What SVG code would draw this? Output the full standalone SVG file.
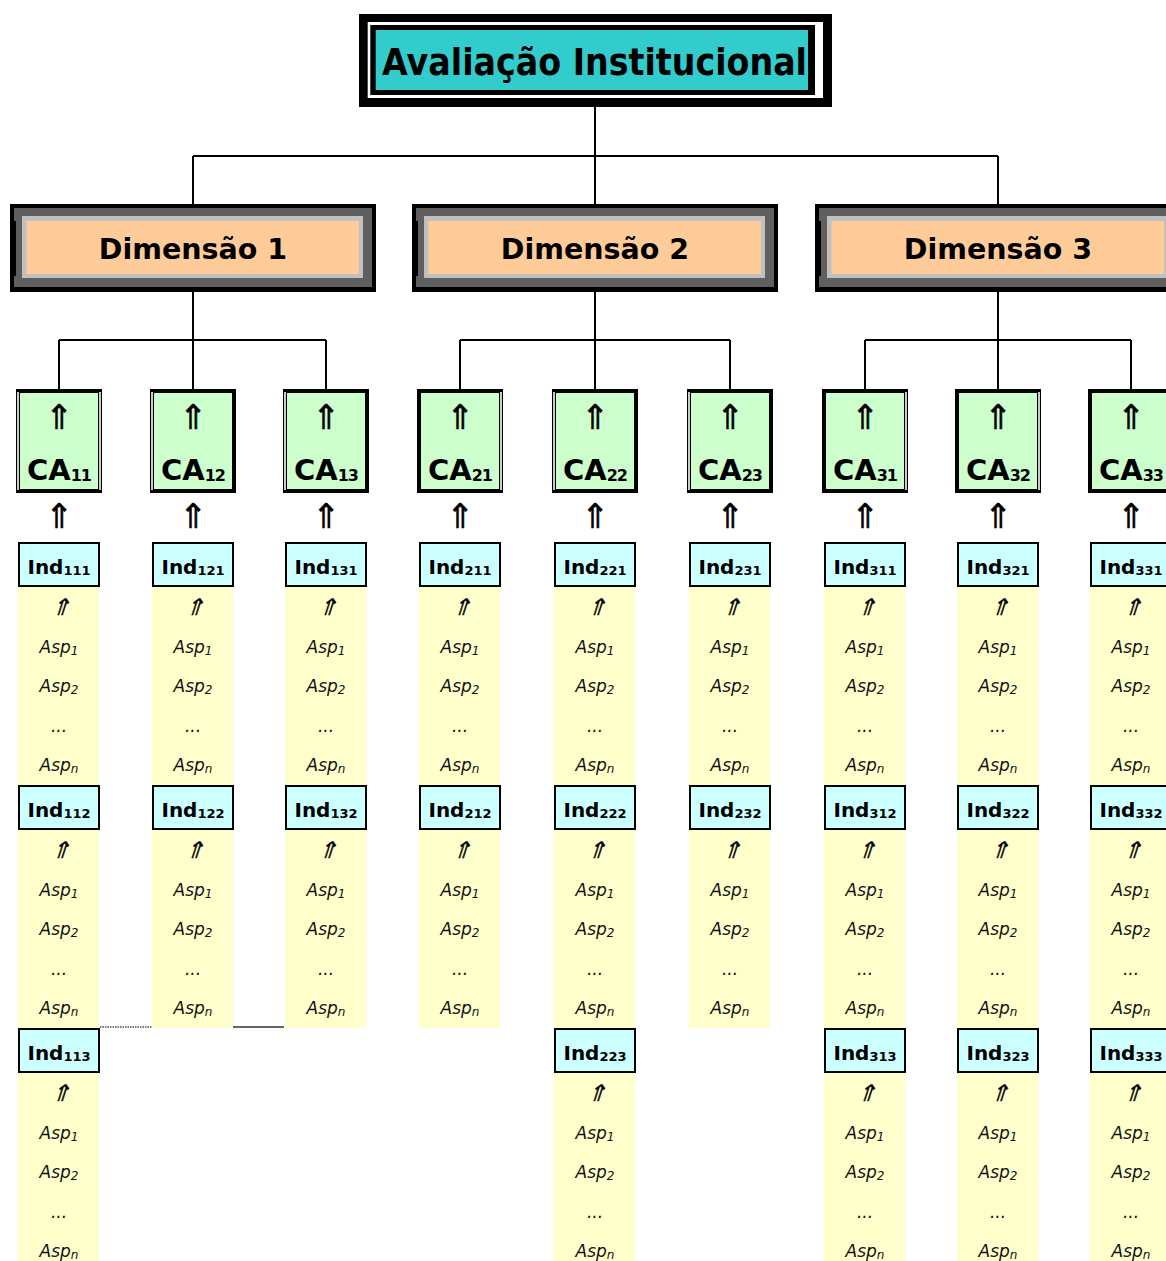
<svg xmlns="http://www.w3.org/2000/svg" width="1166" height="1261" viewBox="0 0 1166 1261">
<style>
.con{stroke:#000;stroke-width:2;fill:none}
.t{font-family:"DejaVu Sans",Verdana,sans-serif;font-weight:bold;text-anchor:middle;fill:#000}
.it{font-family:"DejaVu Sans",Verdana,sans-serif;font-style:italic;text-anchor:middle;fill:#111;font-size:17px}
.s12{font-size:12px}
.ind{fill:#ccffff;stroke:#000;stroke-width:2}
.asp{fill:#ffffcc}
.ca{fill:#ccffcc;stroke:#000;stroke-width:4}
.dbl{stroke:#fff;stroke-width:1.6}
.arr{font-family:"DejaVu Sans",sans-serif;font-size:34px;text-anchor:middle;fill:#000;stroke:#000;stroke-width:0.5}
.arri{font-family:"DejaVu Sans",sans-serif;font-size:23px;text-anchor:middle;fill:#000;stroke:#000;stroke-width:0.3}
.indt{font-size:20px}
.indt tspan{font-size:13px}
.cat{font-size:29px}
.cat tspan{font-size:16px;letter-spacing:-1px}
</style>
<rect width="1166" height="1261" fill="#fff"/>
<g id="connectors">
<path class="con" d="M595,107V156M193,156H998M193,156V204M595,156V204M998,156V204"/>
<path class="con" d="M193,292V340M59,340H326M59,340V389M193,340V389M326,340V389"/>
<path class="con" d="M595,292V340M460,340H730M460,340V389M595,340V389M730,340V389"/>
<path class="con" d="M998,292V340M865,340H1131M865,340V389M998,340V389M1131,340V389"/>
</g>
<g id="title">
<rect x="359" y="14" width="473" height="93" fill="#000"/>
<rect x="367.7" y="22" width="455.3" height="76" fill="#fff"/>
<rect x="370.3" y="25" width="444.7" height="70" fill="#000"/>
<rect x="375.7" y="30" width="432.3" height="60" fill="#33cccc"/>
<text class="t" x="594.5" y="75" font-size="38" textLength="425" lengthAdjust="spacingAndGlyphs">Avaliação Institucional</text>
</g>
<g id="dim1" transform="translate(10,0)">
<rect x="0" y="204" width="366" height="88" fill="#000"/>
<rect x="4" y="208" width="358" height="79" fill="#5f5f5f"/>
<rect x="4" y="221" width="2" height="55" fill="#000"/>
<rect x="12" y="216" width="341" height="62" fill="#c0c0c0"/>
<rect x="16.5" y="221" width="332.5" height="53" fill="#ffcc99"/>
<text class="t" x="183" y="259" font-size="28.5">Dimensão 1</text>
</g>
<g id="dim2" transform="translate(412,0)">
<rect x="0" y="204" width="366" height="88" fill="#000"/>
<rect x="4" y="208" width="358" height="79" fill="#5f5f5f"/>
<rect x="4" y="221" width="2" height="55" fill="#000"/>
<rect x="12" y="216" width="341" height="62" fill="#c0c0c0"/>
<rect x="16.5" y="221" width="332.5" height="53" fill="#ffcc99"/>
<text class="t" x="183" y="259" font-size="28.5">Dimensão 2</text>
</g>
<g id="dim3" transform="translate(815,0)">
<rect x="0" y="204" width="366" height="88" fill="#000"/>
<rect x="4" y="208" width="358" height="79" fill="#5f5f5f"/>
<rect x="4" y="221" width="2" height="55" fill="#000"/>
<rect x="12" y="216" width="341" height="62" fill="#c0c0c0"/>
<rect x="16.5" y="221" width="332.5" height="53" fill="#ffcc99"/>
<text class="t" x="183" y="259" font-size="28.5">Dimensão 3</text>
</g>

<g id="ca11" transform="translate(59,0)">
<rect class="ca" x="-41" y="391" width="82" height="100"/>
<line class="dbl" x1="-41" y1="392" x2="-41" y2="490"/><line class="dbl" x1="41" y1="392" x2="41" y2="490"/>
<text class="arr" x="0" y="429">⇑</text>
<text class="t cat" x="0" y="480">CA<tspan dy="1">11</tspan></text>
<text class="arr" x="0" y="528">⇑</text>
</g>
<g id="ca12" transform="translate(193,0)">
<rect class="ca" x="-41" y="391" width="82" height="100"/>
<line class="dbl" x1="-41" y1="392" x2="-41" y2="490"/>
<text class="arr" x="0" y="429">⇑</text>
<text class="t cat" x="0" y="480">CA<tspan dy="1">12</tspan></text>
<text class="arr" x="0" y="528">⇑</text>
</g>
<g id="ca13" transform="translate(326,0)">
<rect class="ca" x="-41" y="391" width="82" height="100"/>
<line class="dbl" x1="-41" y1="392" x2="-41" y2="490"/>
<text class="arr" x="0" y="429">⇑</text>
<text class="t cat" x="0" y="480">CA<tspan dy="1">13</tspan></text>
<text class="arr" x="0" y="528">⇑</text>
</g>
<g id="ca21" transform="translate(460,0)">
<rect class="ca" x="-41" y="391" width="82" height="100"/>
<line class="dbl" x1="41" y1="392" x2="41" y2="490"/>
<text class="arr" x="0" y="429">⇑</text>
<text class="t cat" x="0" y="480">CA<tspan dy="1">21</tspan></text>
<text class="arr" x="0" y="528">⇑</text>
</g>
<g id="ca22" transform="translate(595,0)">
<rect class="ca" x="-41" y="391" width="82" height="100"/>
<line class="dbl" x1="-41" y1="392" x2="-41" y2="490"/>
<text class="arr" x="0" y="429">⇑</text>
<text class="t cat" x="0" y="480">CA<tspan dy="1">22</tspan></text>
<text class="arr" x="0" y="528">⇑</text>
</g>
<g id="ca23" transform="translate(730,0)">
<rect class="ca" x="-41" y="391" width="82" height="100"/>
<line class="dbl" x1="-41" y1="392" x2="-41" y2="490"/>
<text class="arr" x="0" y="429">⇑</text>
<text class="t cat" x="0" y="480">CA<tspan dy="1">23</tspan></text>
<text class="arr" x="0" y="528">⇑</text>
</g>
<g id="ca31" transform="translate(865,0)">
<rect class="ca" x="-41" y="391" width="82" height="100"/>
<line class="dbl" x1="41" y1="392" x2="41" y2="490"/>
<text class="arr" x="0" y="429">⇑</text>
<text class="t cat" x="0" y="480">CA<tspan dy="1">31</tspan></text>
<text class="arr" x="0" y="528">⇑</text>
</g>
<g id="ca32" transform="translate(998,0)">
<rect class="ca" x="-41" y="391" width="82" height="100"/>
<line class="dbl" x1="41" y1="392" x2="41" y2="490"/>
<text class="arr" x="0" y="429">⇑</text>
<text class="t cat" x="0" y="480">CA<tspan dy="1">32</tspan></text>
<text class="arr" x="0" y="528">⇑</text>
</g>
<g id="ca33" transform="translate(1131,0)">
<rect class="ca" x="-41" y="391" width="82" height="100"/>
<text class="arr" x="0" y="429">⇑</text>
<text class="t cat" x="0" y="480">CA<tspan dy="1">33</tspan></text>
<text class="arr" x="0" y="528">⇑</text>
</g>

<g id="ind111" transform="translate(59,542)"><rect class="asp" x="-41" y="45" width="81" height="198"/><rect class="ind" x="-40" y="1" width="80" height="43"/><text class="t indt" x="0" y="32">Ind<tspan dy="1">111</tspan></text><text class="arri" transform="translate(1,73) skewX(-18)">⇑</text><text class="it" x="0" y="111">Asp<tspan class="s12" dy="2">1</tspan></text><text class="it" x="0" y="150">Asp<tspan class="s12" dy="2">2</tspan></text><text class="it" x="0" y="190">...</text><text class="it" x="0" y="229">Asp<tspan class="s12" dy="2">n</tspan></text></g>
<g id="ind112" transform="translate(59,785)"><rect class="asp" x="-41" y="45" width="81" height="198"/><rect class="ind" x="-40" y="1" width="80" height="43"/><text class="t indt" x="0" y="32">Ind<tspan dy="1">112</tspan></text><text class="arri" transform="translate(1,73) skewX(-18)">⇑</text><text class="it" x="0" y="111">Asp<tspan class="s12" dy="2">1</tspan></text><text class="it" x="0" y="150">Asp<tspan class="s12" dy="2">2</tspan></text><text class="it" x="0" y="190">...</text><text class="it" x="0" y="229">Asp<tspan class="s12" dy="2">n</tspan></text></g>
<g id="ind113" transform="translate(59,1028)"><rect class="asp" x="-41" y="45" width="81" height="198"/><rect class="ind" x="-40" y="1" width="80" height="43"/><text class="t indt" x="0" y="32">Ind<tspan dy="1">113</tspan></text><text class="arri" transform="translate(1,73) skewX(-18)">⇑</text><text class="it" x="0" y="111">Asp<tspan class="s12" dy="2">1</tspan></text><text class="it" x="0" y="150">Asp<tspan class="s12" dy="2">2</tspan></text><text class="it" x="0" y="190">...</text><text class="it" x="0" y="229">Asp<tspan class="s12" dy="2">n</tspan></text></g>

<g id="ind121" transform="translate(193,542)"><rect class="asp" x="-41" y="45" width="81" height="198"/><rect class="ind" x="-40" y="1" width="80" height="43"/><text class="t indt" x="0" y="32">Ind<tspan dy="1">121</tspan></text><text class="arri" transform="translate(1,73) skewX(-18)">⇑</text><text class="it" x="0" y="111">Asp<tspan class="s12" dy="2">1</tspan></text><text class="it" x="0" y="150">Asp<tspan class="s12" dy="2">2</tspan></text><text class="it" x="0" y="190">...</text><text class="it" x="0" y="229">Asp<tspan class="s12" dy="2">n</tspan></text></g>
<g id="ind122" transform="translate(193,785)"><rect class="asp" x="-41" y="45" width="81" height="198"/><rect class="ind" x="-40" y="1" width="80" height="43"/><text class="t indt" x="0" y="32">Ind<tspan dy="1">122</tspan></text><text class="arri" transform="translate(1,73) skewX(-18)">⇑</text><text class="it" x="0" y="111">Asp<tspan class="s12" dy="2">1</tspan></text><text class="it" x="0" y="150">Asp<tspan class="s12" dy="2">2</tspan></text><text class="it" x="0" y="190">...</text><text class="it" x="0" y="229">Asp<tspan class="s12" dy="2">n</tspan></text></g>

<g id="ind131" transform="translate(326,542)"><rect class="asp" x="-41" y="45" width="81" height="198"/><rect class="ind" x="-40" y="1" width="80" height="43"/><text class="t indt" x="0" y="32">Ind<tspan dy="1">131</tspan></text><text class="arri" transform="translate(1,73) skewX(-18)">⇑</text><text class="it" x="0" y="111">Asp<tspan class="s12" dy="2">1</tspan></text><text class="it" x="0" y="150">Asp<tspan class="s12" dy="2">2</tspan></text><text class="it" x="0" y="190">...</text><text class="it" x="0" y="229">Asp<tspan class="s12" dy="2">n</tspan></text></g>
<g id="ind132" transform="translate(326,785)"><rect class="asp" x="-41" y="45" width="81" height="198"/><rect class="ind" x="-40" y="1" width="80" height="43"/><text class="t indt" x="0" y="32">Ind<tspan dy="1">132</tspan></text><text class="arri" transform="translate(1,73) skewX(-18)">⇑</text><text class="it" x="0" y="111">Asp<tspan class="s12" dy="2">1</tspan></text><text class="it" x="0" y="150">Asp<tspan class="s12" dy="2">2</tspan></text><text class="it" x="0" y="190">...</text><text class="it" x="0" y="229">Asp<tspan class="s12" dy="2">n</tspan></text></g>

<g id="ind211" transform="translate(460,542)"><rect class="asp" x="-41" y="45" width="81" height="198"/><rect class="ind" x="-40" y="1" width="80" height="43"/><text class="t indt" x="0" y="32">Ind<tspan dy="1">211</tspan></text><text class="arri" transform="translate(1,73) skewX(-18)">⇑</text><text class="it" x="0" y="111">Asp<tspan class="s12" dy="2">1</tspan></text><text class="it" x="0" y="150">Asp<tspan class="s12" dy="2">2</tspan></text><text class="it" x="0" y="190">...</text><text class="it" x="0" y="229">Asp<tspan class="s12" dy="2">n</tspan></text></g>
<g id="ind212" transform="translate(460,785)"><rect class="asp" x="-41" y="45" width="81" height="198"/><rect class="ind" x="-40" y="1" width="80" height="43"/><text class="t indt" x="0" y="32">Ind<tspan dy="1">212</tspan></text><text class="arri" transform="translate(1,73) skewX(-18)">⇑</text><text class="it" x="0" y="111">Asp<tspan class="s12" dy="2">1</tspan></text><text class="it" x="0" y="150">Asp<tspan class="s12" dy="2">2</tspan></text><text class="it" x="0" y="190">...</text><text class="it" x="0" y="229">Asp<tspan class="s12" dy="2">n</tspan></text></g>

<g id="ind221" transform="translate(595,542)"><rect class="asp" x="-41" y="45" width="81" height="198"/><rect class="ind" x="-40" y="1" width="80" height="43"/><text class="t indt" x="0" y="32">Ind<tspan dy="1">221</tspan></text><text class="arri" transform="translate(1,73) skewX(-18)">⇑</text><text class="it" x="0" y="111">Asp<tspan class="s12" dy="2">1</tspan></text><text class="it" x="0" y="150">Asp<tspan class="s12" dy="2">2</tspan></text><text class="it" x="0" y="190">...</text><text class="it" x="0" y="229">Asp<tspan class="s12" dy="2">n</tspan></text></g>
<g id="ind222" transform="translate(595,785)"><rect class="asp" x="-41" y="45" width="81" height="198"/><rect class="ind" x="-40" y="1" width="80" height="43"/><text class="t indt" x="0" y="32">Ind<tspan dy="1">222</tspan></text><text class="arri" transform="translate(1,73) skewX(-18)">⇑</text><text class="it" x="0" y="111">Asp<tspan class="s12" dy="2">1</tspan></text><text class="it" x="0" y="150">Asp<tspan class="s12" dy="2">2</tspan></text><text class="it" x="0" y="190">...</text><text class="it" x="0" y="229">Asp<tspan class="s12" dy="2">n</tspan></text></g>
<g id="ind223" transform="translate(595,1028)"><rect class="asp" x="-41" y="45" width="81" height="198"/><rect class="ind" x="-40" y="1" width="80" height="43"/><text class="t indt" x="0" y="32">Ind<tspan dy="1">223</tspan></text><text class="arri" transform="translate(1,73) skewX(-18)">⇑</text><text class="it" x="0" y="111">Asp<tspan class="s12" dy="2">1</tspan></text><text class="it" x="0" y="150">Asp<tspan class="s12" dy="2">2</tspan></text><text class="it" x="0" y="190">...</text><text class="it" x="0" y="229">Asp<tspan class="s12" dy="2">n</tspan></text></g>

<g id="ind231" transform="translate(730,542)"><rect class="asp" x="-41" y="45" width="81" height="198"/><rect class="ind" x="-40" y="1" width="80" height="43"/><text class="t indt" x="0" y="32">Ind<tspan dy="1">231</tspan></text><text class="arri" transform="translate(1,73) skewX(-18)">⇑</text><text class="it" x="0" y="111">Asp<tspan class="s12" dy="2">1</tspan></text><text class="it" x="0" y="150">Asp<tspan class="s12" dy="2">2</tspan></text><text class="it" x="0" y="190">...</text><text class="it" x="0" y="229">Asp<tspan class="s12" dy="2">n</tspan></text></g>
<g id="ind232" transform="translate(730,785)"><rect class="asp" x="-41" y="45" width="81" height="198"/><rect class="ind" x="-40" y="1" width="80" height="43"/><text class="t indt" x="0" y="32">Ind<tspan dy="1">232</tspan></text><text class="arri" transform="translate(1,73) skewX(-18)">⇑</text><text class="it" x="0" y="111">Asp<tspan class="s12" dy="2">1</tspan></text><text class="it" x="0" y="150">Asp<tspan class="s12" dy="2">2</tspan></text><text class="it" x="0" y="190">...</text><text class="it" x="0" y="229">Asp<tspan class="s12" dy="2">n</tspan></text></g>

<g id="ind311" transform="translate(865,542)"><rect class="asp" x="-41" y="45" width="81" height="198"/><rect class="ind" x="-40" y="1" width="80" height="43"/><text class="t indt" x="0" y="32">Ind<tspan dy="1">311</tspan></text><text class="arri" transform="translate(1,73) skewX(-18)">⇑</text><text class="it" x="0" y="111">Asp<tspan class="s12" dy="2">1</tspan></text><text class="it" x="0" y="150">Asp<tspan class="s12" dy="2">2</tspan></text><text class="it" x="0" y="190">...</text><text class="it" x="0" y="229">Asp<tspan class="s12" dy="2">n</tspan></text></g>
<g id="ind312" transform="translate(865,785)"><rect class="asp" x="-41" y="45" width="81" height="198"/><rect class="ind" x="-40" y="1" width="80" height="43"/><text class="t indt" x="0" y="32">Ind<tspan dy="1">312</tspan></text><text class="arri" transform="translate(1,73) skewX(-18)">⇑</text><text class="it" x="0" y="111">Asp<tspan class="s12" dy="2">1</tspan></text><text class="it" x="0" y="150">Asp<tspan class="s12" dy="2">2</tspan></text><text class="it" x="0" y="190">...</text><text class="it" x="0" y="229">Asp<tspan class="s12" dy="2">n</tspan></text></g>
<g id="ind313" transform="translate(865,1028)"><rect class="asp" x="-41" y="45" width="81" height="198"/><rect class="ind" x="-40" y="1" width="80" height="43"/><text class="t indt" x="0" y="32">Ind<tspan dy="1">313</tspan></text><text class="arri" transform="translate(1,73) skewX(-18)">⇑</text><text class="it" x="0" y="111">Asp<tspan class="s12" dy="2">1</tspan></text><text class="it" x="0" y="150">Asp<tspan class="s12" dy="2">2</tspan></text><text class="it" x="0" y="190">...</text><text class="it" x="0" y="229">Asp<tspan class="s12" dy="2">n</tspan></text></g>

<g id="ind321" transform="translate(998,542)"><rect class="asp" x="-41" y="45" width="81" height="198"/><rect class="ind" x="-40" y="1" width="80" height="43"/><text class="t indt" x="0" y="32">Ind<tspan dy="1">321</tspan></text><text class="arri" transform="translate(1,73) skewX(-18)">⇑</text><text class="it" x="0" y="111">Asp<tspan class="s12" dy="2">1</tspan></text><text class="it" x="0" y="150">Asp<tspan class="s12" dy="2">2</tspan></text><text class="it" x="0" y="190">...</text><text class="it" x="0" y="229">Asp<tspan class="s12" dy="2">n</tspan></text></g>
<g id="ind322" transform="translate(998,785)"><rect class="asp" x="-41" y="45" width="81" height="198"/><rect class="ind" x="-40" y="1" width="80" height="43"/><text class="t indt" x="0" y="32">Ind<tspan dy="1">322</tspan></text><text class="arri" transform="translate(1,73) skewX(-18)">⇑</text><text class="it" x="0" y="111">Asp<tspan class="s12" dy="2">1</tspan></text><text class="it" x="0" y="150">Asp<tspan class="s12" dy="2">2</tspan></text><text class="it" x="0" y="190">...</text><text class="it" x="0" y="229">Asp<tspan class="s12" dy="2">n</tspan></text></g>
<g id="ind323" transform="translate(998,1028)"><rect class="asp" x="-41" y="45" width="81" height="198"/><rect class="ind" x="-40" y="1" width="80" height="43"/><text class="t indt" x="0" y="32">Ind<tspan dy="1">323</tspan></text><text class="arri" transform="translate(1,73) skewX(-18)">⇑</text><text class="it" x="0" y="111">Asp<tspan class="s12" dy="2">1</tspan></text><text class="it" x="0" y="150">Asp<tspan class="s12" dy="2">2</tspan></text><text class="it" x="0" y="190">...</text><text class="it" x="0" y="229">Asp<tspan class="s12" dy="2">n</tspan></text></g>

<g id="ind331" transform="translate(1131,542)"><rect class="asp" x="-41" y="45" width="81" height="198"/><rect class="ind" x="-40" y="1" width="80" height="43"/><text class="t indt" x="0" y="32">Ind<tspan dy="1">331</tspan></text><text class="arri" transform="translate(1,73) skewX(-18)">⇑</text><text class="it" x="0" y="111">Asp<tspan class="s12" dy="2">1</tspan></text><text class="it" x="0" y="150">Asp<tspan class="s12" dy="2">2</tspan></text><text class="it" x="0" y="190">...</text><text class="it" x="0" y="229">Asp<tspan class="s12" dy="2">n</tspan></text></g>
<g id="ind332" transform="translate(1131,785)"><rect class="asp" x="-41" y="45" width="81" height="198"/><rect class="ind" x="-40" y="1" width="80" height="43"/><text class="t indt" x="0" y="32">Ind<tspan dy="1">332</tspan></text><text class="arri" transform="translate(1,73) skewX(-18)">⇑</text><text class="it" x="0" y="111">Asp<tspan class="s12" dy="2">1</tspan></text><text class="it" x="0" y="150">Asp<tspan class="s12" dy="2">2</tspan></text><text class="it" x="0" y="190">...</text><text class="it" x="0" y="229">Asp<tspan class="s12" dy="2">n</tspan></text></g>
<g id="ind333" transform="translate(1131,1028)"><rect class="asp" x="-41" y="45" width="81" height="198"/><rect class="ind" x="-40" y="1" width="80" height="43"/><text class="t indt" x="0" y="32">Ind<tspan dy="1">333</tspan></text><text class="arri" transform="translate(1,73) skewX(-18)">⇑</text><text class="it" x="0" y="111">Asp<tspan class="s12" dy="2">1</tspan></text><text class="it" x="0" y="150">Asp<tspan class="s12" dy="2">2</tspan></text><text class="it" x="0" y="190">...</text><text class="it" x="0" y="229">Asp<tspan class="s12" dy="2">n</tspan></text></g>

<g id="gridlines">
<line x1="100" y1="1027" x2="152" y2="1027" stroke="#777" stroke-width="2" stroke-dasharray="1.5 1"/>
<line x1="233" y1="1027" x2="284" y2="1027" stroke="#666" stroke-width="2"/>
</g>
</svg>
